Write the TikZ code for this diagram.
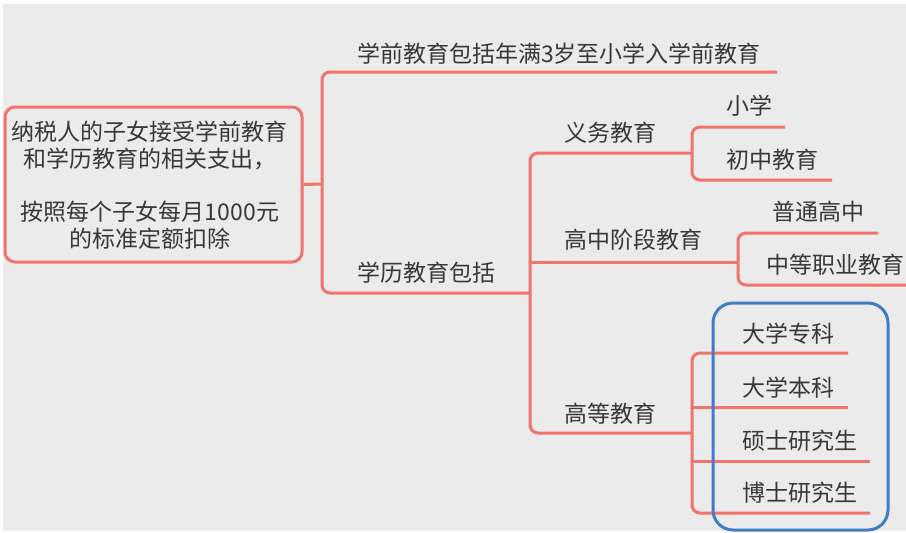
\documentclass[tikz,border=0pt]{standalone}
\usepackage{fontspec}
\setmainfont{Noto Sans CJK SC}
\definecolor{bg}{HTML}{EBEBEB}
\definecolor{branch}{HTML}{F0736C}
\definecolor{hlblue}{HTML}{3F7EC6}
\definecolor{txt}{HTML}{383838}
\tikzset{
  lbl/.style={anchor=west, inner sep=0pt, text=txt, font=\fontsize{23}{27}\selectfont},
  link/.style={draw=branch, line width=3pt, rounded corners=8pt},
}
\begin{document}
\begin{tikzpicture}[x=1pt,y=-1pt]
\useasboundingbox (0,0) rectangle (906,533);
\fill[white] (0,0) rectangle (906,533);
\fill[bg] (3,4) rectangle (906,531);

% root
\node[draw=branch, line width=3pt, rounded corners=10pt, fill=bg,
      minimum width=297pt, minimum height=155pt, inner sep=0pt] (root) at (153.5,184.5) {};
\node[inner sep=0pt, text=txt, align=center, font=\fontsize{23}{27.5}\selectfont] (rootText) at (150,185)
  {纳税人的子女接受学前教育\\和学历教育的相关支出，\\[25pt]按照每个子女每月1000元\\的标准定额扣除};

% coordinates of branch ends
\coordinate (j0) at (322,184);
\coordinate (e0) at (777,72);
\coordinate (e1) at (530,293);
\coordinate (e11) at (692,153);
\coordinate (e12) at (738,262);
\coordinate (e13) at (692,433);
\coordinate (e111) at (785,127);
\coordinate (e112) at (832,180);
\coordinate (e121) at (878,233);
\coordinate (e122) at (912,285);
\coordinate (e131) at (848,353);
\coordinate (e132) at (848,407);
\coordinate (e133) at (870,461);
\coordinate (e134) at (870,513);

% level 1
\draw[link] (root.east) -- (j0);
\draw[link] (e0) -- (j0 |- e0) -- (j0 |- e1) -- (e1);
% level 2
\draw[link] (e11) -- (e1 |- e11) -- (e1 |- e13) -- (e13);
\draw[link] (e1 |- e12) -- (e12);
% level 3
\draw[link] (e111) -- (e11 |- e111) -- (e11 |- e112) -- (e112);
\draw[link] (e121) -- (e12 |- e121) -- (e12 |- e122) -- (e122);
\draw[link] (e131) -- (e13 |- e131) -- (e13 |- e134) -- (e134);
\draw[link] (e13 |- e132) -- (e132);
\draw[link] (e13 |- e133) -- (e133);

% highlight box
\node[draw=hlblue, line width=3pt, rounded corners=20pt,
      minimum width=175pt, minimum height=227pt, inner sep=0pt] (hl) at (800.5,416.5) {};

% labels
\node[lbl] (t0) at (357,54) {学前教育包括年满3岁至小学入学前教育};
\node[lbl] (t1) at (357,273) {学历教育包括};
\node[lbl] (t11) at (564,133) {义务教育};
\node[lbl] (t12) at (564,240) {高中阶段教育};
\node[lbl] (t13) at (564,414) {高等教育};
\node[lbl] (t111) at (726,106) {小学};
\node[lbl] (t112) at (726,160) {初中教育};
\node[lbl] (t121) at (772,212) {普通高中};
\node[lbl] (t122) at (766,265) {中等职业教育};
\node[lbl] (t131) at (742,334) {大学专科};
\node[lbl] (t132) at (742,388) {大学本科};
\node[lbl] (t133) at (742,441) {硕士研究生};
\node[lbl] (t134) at (742,493) {博士研究生};
\end{tikzpicture}
\end{document}
